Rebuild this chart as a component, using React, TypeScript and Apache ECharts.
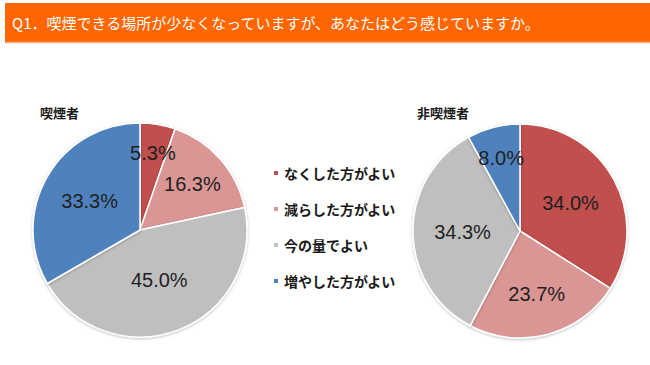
import React, { useEffect, useRef } from "react";
import * as echarts from "echarts";

const TITLE = "Q1．喫煙できる場所が少なくなっていますが、あなたはどう感じていますか。";
const CATEGORIES = ["なくした方がよい", "減らした方がよい", "今の量でよい", "増やした方がよい"];
const GROUPS = ["喫煙者", "非喫煙者"];
const SMOKER = [5.3, 16.3, 45.0, 33.3];
const NON_SMOKER = [34.0, 23.7, 34.3, 8.0];

const COLORS = ["#C0504D", "#D99694", "#BFBFBF", "#4F81BD"];
const JP = '"Noto Sans CJK JP", "Noto Sans", sans-serif';
const R = 107;
const CENTERS: [number, number][] = [
  [140, 230],
  [520, 231],
];

function labelPos(values: number[], idx: number, center: [number, number]) {
  const total = values.reduce((a, b) => a + b, 0);
  let cum = 0;
  for (let i = 0; i < idx; i++) cum += values[i];
  const a = (2 * Math.PI * (cum + values[idx] / 2)) / total;
  const pct = (values[idx] / total) * 100;
  const f = Math.max(0.5, 0.76 - 0.0065 * pct);
  return {
    x: center[0] + f * R * Math.sin(a),
    y: center[1] - f * R * Math.cos(a),
  };
}

function makeSeries(name: string, values: number[], center: [number, number]) {
  return {
    type: "pie",
    name,
    center,
    radius: R,
    startAngle: 90,
    clockwise: true,
    avoidLabelOverlap: false,
    data: values.map((v, i) => ({ name: CATEGORIES[i], value: v })),
    itemStyle: {
      borderColor: "#ffffff",
      borderWidth: 1.5,
      shadowBlur: 3,
      shadowColor: "rgba(0,0,0,0.25)",
      shadowOffsetY: 1,
    },
    label: {
      show: true,
      position: "inside",
      formatter: (p: any) => p.value.toFixed(1) + "%",
      fontFamily: '"Liberation Sans", Arial, sans-serif',
      fontSize: 20,
      color: "#1f1f1f",
    },
    labelLine: { show: false },
    labelLayout: (p: any) => {
      const pos = labelPos(values, p.dataIndex, center);
      return { x: pos.x, y: pos.y, align: "center", verticalAlign: "middle" };
    },
    emphasis: { disabled: true },
  };
}

export default function App() {
  const ref = useRef<HTMLDivElement>(null);
  useEffect(() => {
    if (!ref.current) return;
    const chart = echarts.init(ref.current, null, { renderer: "svg" });
    chart.setOption({
      animation: false,
      backgroundColor: "#ffffff",
      color: COLORS,
      title: [
        {
          text: GROUPS[0],
          left: 35,
          top: 101,
          textStyle: { fontFamily: JP, fontSize: 13, fontWeight: "bold", color: "#1a1a1a" },
        },
        {
          text: GROUPS[1],
          left: 412,
          top: 101,
          textStyle: { fontFamily: JP, fontSize: 13, fontWeight: "bold", color: "#1a1a1a" },
        },
      ],
      graphic: [
        {
          type: "rect",
          shape: { x: 5, y: 3, width: 645, height: 39 },
          style: { fill: "#FF6600" },
          z: 0,
        },
        {
          type: "line",
          shape: { x1: 5, y1: 42.5, x2: 650, y2: 42.5 },
          style: { stroke: "#F6B38A", lineWidth: 1.5 },
          z: 0,
        },
        {
          type: "text",
          x: 12,
          y: 22,
          style: {
            text: TITLE,
            fill: "#ffffff",
            fontFamily: JP,
            fontSize: 15,
            verticalAlign: "middle",
          },
          z: 1,
        },
      ],
      legend: {
        orient: "vertical",
        left: 267,
        top: 161,
        icon: "rect",
        itemWidth: 6,
        itemHeight: 6,
        itemGap: 22,
        selectedMode: false,
        data: CATEGORIES,
        textStyle: { fontFamily: JP, fontSize: 14, fontWeight: "bold", color: "#1a1a1a" },
      },
      series: [
        makeSeries(GROUPS[0], SMOKER, CENTERS[0]),
        makeSeries(GROUPS[1], NON_SMOKER, CENTERS[1]),
      ],
    });
    return () => chart.dispose();
  }, []);
  return (
    <div
      ref={ref}
      style={{ position: "fixed", left: 0, top: 0, width: 650, height: 365 }}
    />
  );
}
